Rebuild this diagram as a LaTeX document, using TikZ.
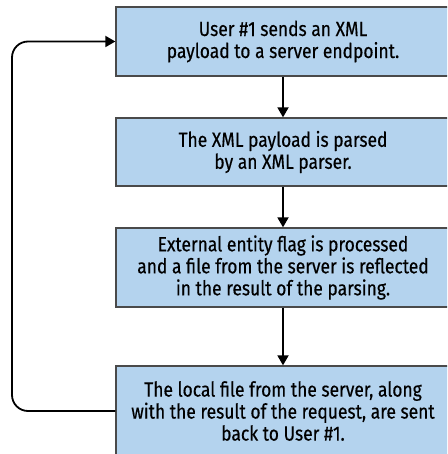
\documentclass[tikz,border=0pt]{standalone}
\usepackage{fontspec}
\setmainfont[FakeStretch=0.85,FakeBold=0.4]{Fira Sans}
\usepackage{xcolor}
\usetikzlibrary{arrows.meta}
\definecolor{boxblue}{HTML}{B4D3EE}
\definecolor{boxline}{HTML}{4A4A4A}

\begin{document}
\begin{tikzpicture}[x=1pt,y=-1pt,
    stepbox/.style={draw=boxline,line width=1.3pt,fill=boxblue,minimum width=334pt,
        align=center,font=\fontsize{20.5}{22}\selectfont,inner sep=0pt},
    flow/.style={line width=1.8pt,-{Triangle[width=11pt,length=10pt]}}]
    \clip (0,0) rectangle (447,454);
    \node[stepbox,minimum height=69pt] (send) at (283,41.5) {User \#1 sends an XML\\payload to a server endpoint.};
    \node[stepbox,minimum height=68pt] (parse) at (283,152) {The XML payload is parsed\\by an XML parser.};
    \node[stepbox,minimum height=79pt] (flag) at (283,267.5) {External entity flag is processed\\and a file from the server is reflected\\in the result of the parsing.};
    \node[stepbox,minimum height=90pt] (back) at (283,411) {The local file from the server, along\\with the result of the request, are sent\\back to User \#1.};
    \coordinate (loop) at (12,0);
    \draw[flow] (send) to (parse);
    \draw[flow] (parse) to (flag);
    \draw[flow] (flag) to (back);
    \draw[flow,rounded corners=16pt] (back.west) -- (back.west -| loop) -- (send.west -| loop) -- (send.west);
\end{tikzpicture}
\end{document}
